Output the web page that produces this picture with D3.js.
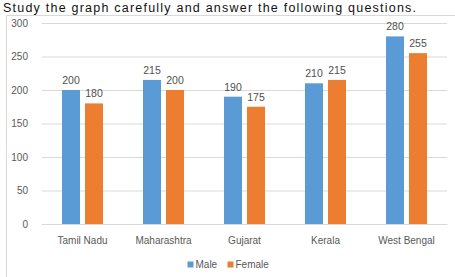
<!DOCTYPE html>
<html><head><meta charset="utf-8">
<script src="https://cdn.jsdelivr.net/npm/d3@7"></script>
<style>body{margin:0;background:#fff}svg{display:block}</style>
</head><body>
<svg id="c" width="455" height="277"></svg>
<script>
const categories = ["Tamil Nadu","Maharashtra","Gujarat","Kerala","West Bengal"];
const seriesNames = ["Male","Female"];
const male = [200,215,190,210,280];
const female = [180,200,175,215,255];
const yTicks = [0,50,100,150,200,250,300];
const colors = ["#5B9BD5","#ED7D31"];

const svg = d3.select("#c");
const W=455,H=277;
const m={l:42,r:8,t:23,b:53};
const FF="Liberation Sans, Arial, sans-serif";
const x = d3.scaleBand().domain(categories).range([m.l,W-m.r]);
const y = d3.scaleLinear().domain([0,300]).range([H-m.b,m.t]);
const xs = d3.scaleBand().domain(seriesNames).range([0,x.bandwidth()]).paddingInner(0.217).paddingOuter(0.87);

// title
svg.append("text").attr("x",3).attr("y",12).attr("font-family",FF)
  .attr("font-size",12.5).attr("fill","#111").attr("textLength",413).attr("lengthAdjust","spacing")
  .text("Study the graph carefully and answer the following questions.");
// frame
svg.append("path").attr("d",`M6.5,${H}V15.5H${W}`).attr("fill","none").attr("stroke","#d9d9d9");

// grid
const ga = svg.append("g").attr("transform",`translate(${m.l},0)`)
  .call(d3.axisLeft(y).tickValues(yTicks).tickSize(-(W-m.l-m.r)).tickPadding(14));
ga.select(".domain").remove();
ga.selectAll(".tick line").attr("stroke","#d9d9d9");
ga.selectAll(".tick text").attr("fill","#595959").attr("font-size",10).attr("font-family",FF);

const xa = svg.append("g").attr("transform",`translate(0,${H-m.b})`).call(d3.axisBottom(x).tickSize(0).tickPadding(13));
xa.select(".domain").attr("stroke","#d9d9d9");
xa.selectAll(".tick text").attr("fill","#595959").attr("font-size",10).attr("font-family",FF);

const data = categories.map((c,i)=>({c, vals:[{s:"Male",v:male[i]},{s:"Female",v:female[i]}]}));
const g = svg.selectAll(".grp").data(data).join("g").attr("transform",d=>`translate(${x(d.c)},0)`);
g.selectAll("rect").data(d=>d.vals).join("rect")
  .attr("x",d=>xs(d.s)).attr("width",xs.bandwidth())
  .attr("y",d=>y(d.v)).attr("height",d=>y(0)-y(d.v))
  .attr("fill",(d,i)=>colors[i]);
g.selectAll("text.lbl").data(d=>d.vals).join("text").attr("class","lbl")
  .attr("x",d=>xs(d.s)+xs.bandwidth()/2).attr("y",d=>y(d.v)-6)
  .attr("text-anchor","middle").attr("font-size",10.5).attr("fill","#505050")
  .attr("font-family",FF).text(d=>d.v);

// legend
const lg = svg.append("g").attr("transform",`translate(${W/2-40},268)`);
const items=[{n:"Male",c:colors[0],dx:0},{n:"Female",c:colors[1],dx:40}];
items.forEach(it=>{
  lg.append("rect").attr("x",it.dx).attr("y",-6.5).attr("width",6).attr("height",6).attr("fill",it.c);
  lg.append("text").attr("x",it.dx+8).attr("y",0).attr("font-size",10).attr("fill","#595959")
    .attr("font-family",FF).text(it.n);
});
</script>
</body></html>
